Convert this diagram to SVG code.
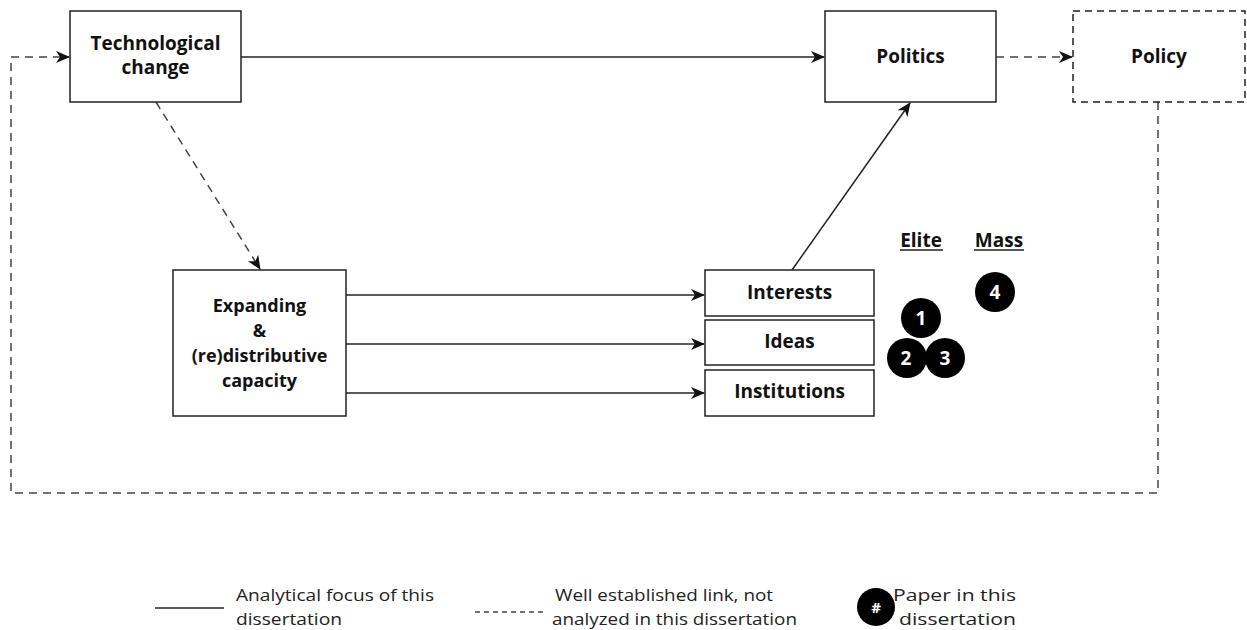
<svg xmlns="http://www.w3.org/2000/svg" width="1247" height="630" viewBox="0 0 1247 630">
<defs>
<style>
.box{fill:#fff;stroke:#222;stroke-width:1.5}
.dbox{fill:#fff;stroke:#222;stroke-width:1.5;stroke-dasharray:7 5}
.lbl{font-family:"Open Sans","Noto Sans",sans-serif;font-weight:bold;font-size:19px;fill:#111;text-anchor:middle}
.ln{fill:none;stroke:#222;stroke-width:1.5}
.dl{fill:none;stroke:#444;stroke-width:1.5;stroke-dasharray:8 6}
.num{font-family:"Open Sans","Noto Sans",sans-serif;font-weight:bold;font-size:19px;fill:#fff;text-anchor:middle}
.leg{font-family:"Open Sans","Noto Sans",sans-serif;font-size:17px;fill:#222}
</style>
<marker id="ah" viewBox="0 0 14 12" refX="13" refY="6" markerWidth="14" markerHeight="12" markerUnits="userSpaceOnUse" orient="auto">
<path d="M0,0 L14,6 L0,12 L4,6 Z" fill="#111"/>
</marker>
</defs>
<rect width="1247" height="630" fill="#fff"/>
<g id="connectors">
<line class="ln" x1="241" y1="57" x2="824" y2="57" marker-end="url(#ah)"/>
<line class="dl" x1="996" y1="57" x2="1072" y2="57" marker-end="url(#ah)"/>
<polyline class="dl" points="1158,102 1158,493 11,493 11,57 69,57" marker-end="url(#ah)"/>
<line class="dl" x1="156" y1="102" x2="260" y2="269" marker-end="url(#ah)"/>
<line class="ln" x1="346" y1="295" x2="704" y2="295" marker-end="url(#ah)"/>
<line class="ln" x1="346" y1="344" x2="704" y2="344" marker-end="url(#ah)"/>
<line class="ln" x1="346" y1="393" x2="704" y2="393" marker-end="url(#ah)"/>
<line class="ln" x1="792" y1="270" x2="910" y2="103" marker-end="url(#ah)"/>
</g>
<g id="tech"><rect class="box" x="70" y="11" width="171" height="91"/><text class="lbl" x="155.5" y="50">Technological</text><text class="lbl" x="155.5" y="74">change</text></g>
<g id="politics"><rect class="box" x="825" y="11" width="171" height="91"/><text class="lbl" x="910.5" y="63">Politics</text></g>
<g id="policy"><rect class="dbox" x="1073" y="11" width="172" height="91"/><text class="lbl" x="1159" y="63">Policy</text></g>
<g id="expanding"><rect class="box" x="173" y="270" width="173" height="146"/>
<text class="lbl" style="font-size:18px" x="259.5" y="312">Expanding</text>
<text class="lbl" style="font-size:18px" x="259.5" y="337">&amp;</text>
<text class="lbl" style="font-size:18px" x="259.5" y="362">(re)distributive</text>
<text class="lbl" style="font-size:18px" x="259.5" y="387">capacity</text></g>
<g id="interests"><rect class="box" x="705" y="270" width="169" height="46"/><text class="lbl" x="789.5" y="299">Interests</text></g>
<g id="ideas"><rect class="box" x="705" y="320" width="169" height="45"/><text class="lbl" x="789.5" y="348">Ideas</text></g>
<g id="institutions"><rect class="box" x="705" y="370" width="169" height="46"/><text class="lbl" x="789.5" y="398">Institutions</text></g>
<g id="elite"><text class="lbl" x="921" y="247">Elite</text><line class="ln" x1="900" y1="250" x2="943" y2="250"/></g>
<g id="mass"><text class="lbl" x="999" y="247">Mass</text><line class="ln" x1="974" y1="250" x2="1024" y2="250"/></g>
<g id="p4"><circle cx="995" cy="292" r="20" fill="#000"/><text class="num" x="995" y="299">4</text></g>
<g id="p1"><circle cx="921" cy="318" r="20" fill="#000"/><text class="num" x="921" y="325">1</text></g>
<g id="p2"><circle cx="907" cy="358" r="20" fill="#000"/><text class="num" x="906" y="365">2</text></g>
<g id="p3"><circle cx="945" cy="358" r="20" fill="#000"/><text class="num" x="945" y="365">3</text></g>
<g id="legend">
<line class="ln" x1="155" y1="608" x2="224" y2="608"/>
<text class="leg" x="236" y="601" textLength="198" lengthAdjust="spacingAndGlyphs">Analytical focus of this</text>
<text class="leg" x="236" y="625" textLength="106" lengthAdjust="spacingAndGlyphs">dissertation</text>
<line x1="475" y1="612" x2="545" y2="612" stroke="#444" stroke-width="1.5" stroke-dasharray="5 4"/>
<text class="leg" x="555" y="601" textLength="218" lengthAdjust="spacingAndGlyphs">Well established link, not</text>
<text class="leg" x="552" y="625" textLength="245" lengthAdjust="spacingAndGlyphs">analyzed in this dissertation</text>
<circle cx="876" cy="607" r="19" fill="#000"/><text class="num" x="876" y="613" style="font-size:15px">#</text>
<text class="leg" x="893" y="601" textLength="123" lengthAdjust="spacingAndGlyphs">Paper in this</text>
<text class="leg" x="899" y="625" textLength="117" lengthAdjust="spacingAndGlyphs">dissertation</text>
</g>
</svg>
